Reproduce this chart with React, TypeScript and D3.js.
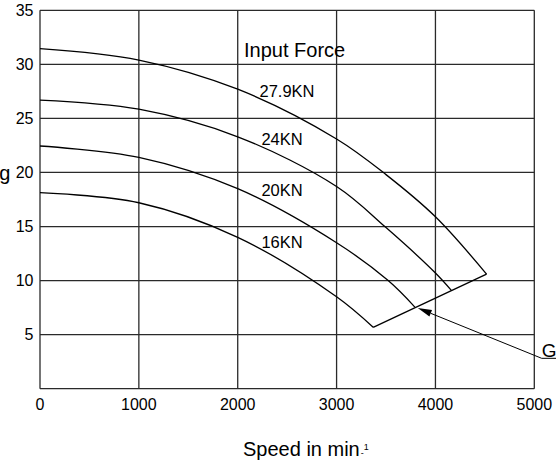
import React from "react";
import * as d3 from "d3";

const xTicks = [0, 1000, 2000, 3000, 4000, 5000];
const yTicks = [5, 10, 15, 20, 25, 30, 35];
const yGrid = [0, 5, 10, 15, 20, 25, 30, 35];

const curve279: [number, number][] = [[0, 31.45], [1000, 30.4], [2000, 27.7], [3000, 23.1], [3500, 19.8], [4000, 15.9], [4517, 10.6]];
const curve24: [number, number][] = [[0, 26.7], [1000, 25.85], [2000, 23.3], [3000, 18.7], [3500, 14.9], [4000, 10.7], [4163, 9.07]];
const curve20: [number, number][] = [[0, 22.45], [1000, 21.4], [2000, 18.5], [3000, 13.5], [3522, 10], [3792, 7.55]];
const curve16: [number, number][] = [[0, 18.13], [1000, 17.2], [2000, 14.0], [3000, 8.5], [3370, 5.68]];

const curveNames = ["27.9KN", "24KN", "20KN", "16KN"];
const curves = [curve279, curve24, curve20, curve16];
// label anchor positions (data coords)
const labelX = [2220, 2240, 2240, 2240];
const labelY = [27.0, 22.5, 17.8, 13.0];

const arrowTip: [number, number] = [3821, 7.46];
const arrowTail: [number, number] = [5075, 2.81];
const underlineEnd = 5300;

export default function App() {
  const W = 556, H = 461;
  const x = d3.scaleLinear().domain([0, 5000]).range([40, 534.3]);
  const y = d3.scaleLinear().domain([0, 35]).range([388.7, 10.3]);
  const line = d3.line<[number, number]>().x(d => x(d[0])).y(d => y(d[1])).curve(d3.curveCatmullRom.alpha(0.5));
  const ends = curves.map(c => c[c.length - 1]);
  const gPath = d3.line<[number, number]>().x(d => x(d[0])).y(d => y(d[1]))([ends[3], ends[0]]);
  const font = "Arial, 'Liberation Sans', sans-serif";
  const gridColor = "#2a2a2a";

  // arrow head
  const tx = x(arrowTip[0]), ty = y(arrowTip[1]);
  const ax = x(arrowTail[0]), ay = y(arrowTail[1]);
  const ang = Math.atan2(ay - ty, ax - tx);
  const L = 14, Wd = 3.5;
  const bx = tx + L * Math.cos(ang), by = ty + L * Math.sin(ang);
  const head = `M${tx},${ty}L${bx + Wd * Math.sin(ang)},${by - Wd * Math.cos(ang)}L${bx - Wd * Math.sin(ang)},${by + Wd * Math.cos(ang)}Z`;

  return (
    <svg width={W} height={H} style={{ position: "absolute", left: 0, top: 0, background: "#fff" }} fontFamily={font}>
      <rect width={W} height={H} fill="#fff" />
      {xTicks.map(t => (
        <line key={"vx" + t} x1={x(t)} x2={x(t)} y1={y(0)} y2={y(35)} stroke={gridColor} strokeWidth={1.3} />
      ))}
      {yGrid.map(t => (
        <line key={"hy" + t} x1={x(0)} x2={x(5000)} y1={y(t)} y2={y(t)} stroke={gridColor} strokeWidth={1.3} />
      ))}
      {yTicks.map(t => (
        <text key={"yl" + t} x={33.5} y={y(t)} dy="0.36em" textAnchor="end" fontSize={16} fill="#000">{t}</text>
      ))}
      {xTicks.map(t => (
        <text key={"xl" + t} x={x(t)} y={409.5} textAnchor="middle" fontSize={16} fill="#000">{t}</text>
      ))}
      {curves.map((c, i) => (
        <path key={"c" + i} d={line(c) || ""} fill="none" stroke="#000" strokeWidth={1.3} />
      ))}
      <path d={gPath || ""} fill="none" stroke="#000" strokeWidth={1.3} />
      {curveNames.map((n, i) => (
        <text key={"n" + i} x={x(labelX[i])} y={y(labelY[i])} fontSize={16.5} fill="#000">{n}</text>
      ))}
      <text x={244} y={57.3} fontSize={20} fill="#000">Input Force</text>
      <line x1={ax} y1={ay} x2={bx} y2={by} stroke="#000" strokeWidth={1} />
      <path d={head} fill="#000" />
      <line x1={ax} y1={ay} x2={x(underlineEnd)} y2={ay} stroke="#000" strokeWidth={1} />
      <text x={ax} y={356.7} fontSize={19} fill="#000">Grenze</text>
      <text x={10.5} y={179.5} textAnchor="end" fontSize={20} fill="#000">Leistung</text>
      <text x={243} y={456} fontSize={20} fill="#000">
        Speed in min
        <tspan fontSize={9} dx={1}>-</tspan>
        <tspan fontSize={9} dy={-6}>1</tspan>
      </text>
    </svg>
  );
}
